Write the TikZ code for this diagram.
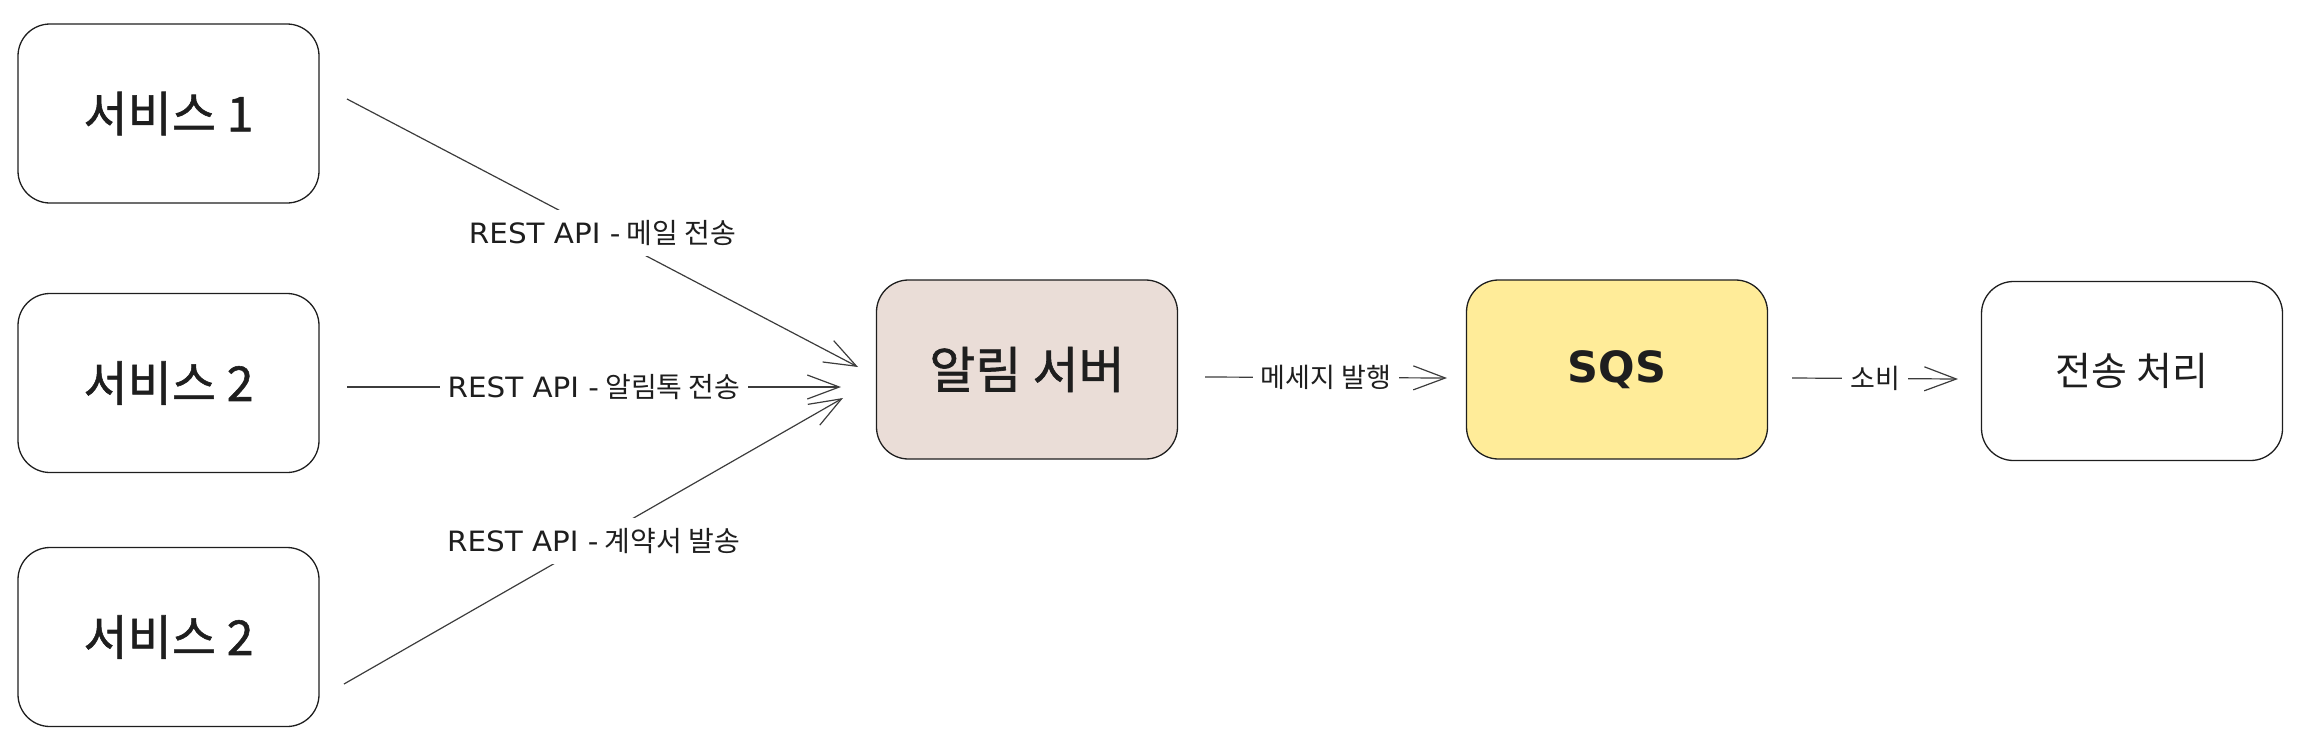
\documentclass[tikz,border=0pt]{standalone}
\usepackage{fontspec}
\setmainfont{Noto Sans CJK KR}
\newfontfamily\krbold[FakeBold=1.2]{Noto Sans CJK KR}
\newfontfamily\latf{DejaVu Sans}
\newfontfamily\latwide[FakeStretch=1.05]{DejaVu Sans}
\usetikzlibrary{arrows.meta}
\definecolor{ink}{HTML}{1E1E1E}
\definecolor{brownfill}{HTML}{EADDD7}
\definecolor{yellowfill}{HTML}{FFEC99}
\definecolor{wire}{HTML}{3C3C3C}
\begin{document}
\begin{tikzpicture}[x=1pt,y=-1pt,
  box/.style={draw=ink, line width=1.3pt, rounded corners=32pt,
    minimum width=301pt, minimum height=179pt, inner sep=0pt, text=ink,
    font=\krbold\fontsize{48}{56}\selectfont},
  smallbox/.style={box, font=\fontsize{39}{46}\selectfont},
  conn/.style={draw=wire, line width=1.2pt,
    -{Straight Barb[length=32pt,width=24pt,line width=1.2pt]}},
  lbl/.style={fill=white, text=ink, inner xsep=8pt, inner ysep=10pt,
    font=\fontsize{28}{33}\selectfont},
  lblk/.style={lbl, font=\fontsize{27}{32}\selectfont},
]
\useasboundingbox (0,0) rectangle (2308,748);

\node[box] (s1) at (168.5,113.5) {서비스 1};
\node[box] (s2) at (168.5,383) {서비스 2};
\node[box] (s3) at (168.5,637) {서비스 2};
\node[box, fill=brownfill, font=\krbold\fontsize{50}{58}\selectfont] (alim) at (1027,369.5) {알림 서버};
\node[box, fill=yellowfill, font=\latf\bfseries\fontsize{43}{50}\selectfont] (sqs) at (1617,369.5) {SQS};
\node[smallbox] (proc) at (2132,371) {전송 처리};

\coordinate (a1s) at (347,99);   \coordinate (a1e) at (858,367);
\coordinate (a2s) at (347,387);  \coordinate (a2e) at (841,387);
\coordinate (a3s) at (344,684);  \coordinate (a3e) at (843,398);
\coordinate (a4s) at (1205,377); \coordinate (a4e) at (1447,378);
\coordinate (a5s) at (1792,378); \coordinate (a5e) at (1958,379);

\draw[conn] (a1s) -- node[lbl] {{\latwide REST API -} 메일 전송} (a1e);
\draw[conn] (a2s) -- node[lbl] {{\latwide REST API -} 알림톡 전송} (a2e);
\draw[conn] (a3s) -- node[lbl] {{\latwide REST API -} 계약서 발송} (a3e);
\draw[conn] (a4s) -- node[lblk] {메세지 발행} (a4e);
\draw[conn] (a5s) -- node[lblk] {소비} (a5e);
\end{tikzpicture}
\end{document}
